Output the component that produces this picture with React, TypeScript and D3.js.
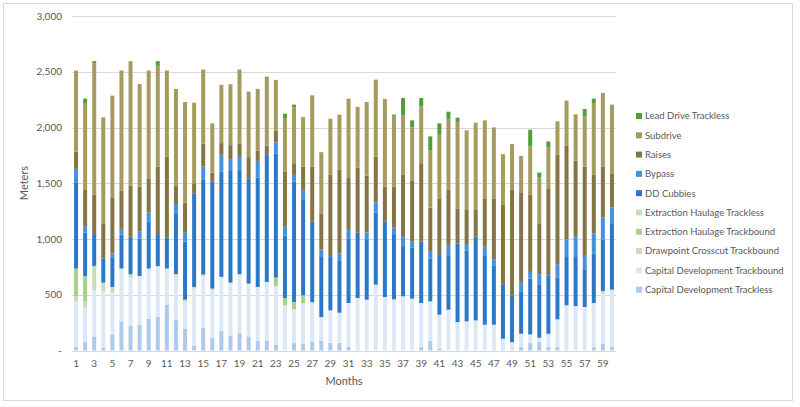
import React from "react";
import * as d3 from "d3";

const months = Array.from({ length: 60 }, (_, i) => i + 1);

const seriesNames = [
  "Capital Development Trackless",
  "Capital Development Trackbound",
  "Drawpoint Crosscut Trackbound",
  "Extraction Haulage Trackbound",
  "Extraction Haulage Trackless",
  "DD Cubbies",
  "Bypass",
  "Raises",
  "Subdrive",
  "Lead Drive Trackless",
];

const seriesColors = [
  "#adc9eb",
  "#dce8f5",
  "#d9d3bd",
  "#a9d18e",
  "#c6e0b4",
  "#2b78c9",
  "#4690dc",
  "#857544",
  "#a69b5e",
  "#50a03a",
];

const capDevTrackless = [30, 75, 126, 24, 144, 261, 225, 231, 285, 300, 411, 279, 195, 45, 204, 111, 174, 135, 156, 126, 90, 90, 54, 0, 66, 60, 81, 90, 69, 69, 36, 0, 0, 0, 0, 0, 0, 0, 30, 90, 15, 0, 0, 0, 0, 0, 0, 0, 0, 30, 66, 75, 30, 30, 0, 0, 0, 30, 60, 36];
const capDevTrackbound = [411, 309, 414, 510, 381, 474, 426, 438, 450, 456, 324, 405, 240, 510, 465, 429, 486, 474, 528, 474, 480, 525, 525, 405, 303, 366, 339, 210, 291, 270, 390, 471, 456, 591, 480, 459, 486, 465, 396, 351, 306, 366, 255, 261, 270, 231, 231, 105, 75, 120, 78, 39, 120, 249, 405, 399, 390, 396, 450, 510];
const drawpointCrosscut = [45, 57, 60, 45, 0, 0, 0, 0, 0, 0, 0, 0, 0, 0, 0, 0, 0, 0, 0, 0, 0, 0, 0, 0, 0, 0, 0, 0, 0, 0, 0, 0, 0, 0, 0, 0, 0, 0, 0, 0, 0, 0, 0, 0, 0, 0, 0, 0, 0, 0, 0, 0, 0, 0, 0, 0, 0, 0, 0, 0];
const extractionTrackbound = [249, 225, 0, 0, 0, 0, 0, 0, 0, 0, 0, 0, 0, 0, 0, 0, 0, 0, 0, 0, 0, 0, 75, 66, 66, 69, 0, 0, 0, 0, 0, 0, 0, 0, 0, 0, 0, 0, 0, 0, 0, 0, 0, 0, 0, 0, 0, 0, 0, 0, 0, 0, 0, 0, 0, 0, 0, 0, 0, 0];
const extractionTrackless = [0, 0, 159, 30, 45, 0, 33, 0, 0, 0, 0, 0, 21, 15, 12, 15, 0, 0, 0, 0, 0, 0, 0, 0, 0, 0, 15, 0, 0, 0, 0, 0, 0, 0, 0, 0, 0, 0, 0, 0, 0, 0, 0, 0, 0, 0, 0, 0, 0, 0, 0, 0, 0, 0, 0, 0, 0, 0, 24, 0];
const ddCubbies = [774, 390, 285, 216, 260, 304, 336, 336, 424, 288, 279, 540, 520, 840, 849, 960, 945, 1001, 933, 939, 981, 1137, 1112, 559, 1080, 855, 720, 546, 486, 471, 573, 585, 543, 648, 675, 585, 450, 456, 549, 384, 543, 489, 705, 633, 750, 624, 528, 489, 420, 375, 501, 480, 525, 375, 441, 447, 339, 444, 460, 588];
const bypass = [120, 60, 0, 0, 40, 50, 0, 60, 80, 0, 0, 90, 80, 0, 120, 0, 150, 100, 120, 0, 150, 0, 100, 80, 60, 90, 0, 60, 0, 60, 90, 0, 60, 90, 0, 60, 90, 60, 0, 60, 0, 90, 0, 60, 0, 75, 60, 0, 0, 90, 60, 90, 0, 120, 150, 180, 120, 180, 200, 150];
const raises = [156, 324, 351, 309, 504, 342, 459, 405, 300, 606, 726, 165, 270, 90, 204, 81, 105, 132, 117, 195, 93, 84, 105, 495, 105, 210, 495, 324, 729, 750, 465, 585, 510, 411, 315, 366, 549, 540, 705, 396, 501, 495, 315, 306, 240, 429, 546, 711, 945, 804, 690, 456, 774, 981, 840, 678, 801, 525, 456, 300];
const subdrive = [726, 780, 1182, 957, 912, 1080, 1116, 921, 972, 903, 771, 867, 903, 723, 666, 441, 522, 546, 666, 588, 552, 621, 456, 474, 501, 444, 639, 549, 504, 495, 705, 543, 660, 690, 786, 630, 534, 480, 510, 513, 570, 630, 774, 714, 783, 705, 636, 456, 411, 327, 435, 411, 372, 300, 405, 414, 450, 645, 660, 621];
const leadDriveTrackless = [0, 39, 18, 0, 0, 0, 0, 0, 0, 42, 0, 0, 0, 0, 0, 0, 0, 0, 0, 0, 0, 0, 0, 45, 24, 0, 0, 0, 0, 0, 0, 0, 0, 0, 0, 15, 156, 63, 75, 126, 102, 72, 39, 0, 0, 0, 0, 0, 0, 0, 150, 45, 54, 0, 0, 0, 66, 39, 0, 0];

const seriesValues = [
  capDevTrackless,
  capDevTrackbound,
  drawpointCrosscut,
  extractionTrackbound,
  extractionTrackless,
  ddCubbies,
  bypass,
  raises,
  subdrive,
  leadDriveTrackless,
];

const yTicks = [0, 500, 1000, 1500, 2000, 2500, 3000];

const FONT = "Lato, 'Open Sans', sans-serif";
const TEXT = "#595959";

export default function App() {
  const rows = months.map((m, i) => {
    const r: any = { month: m };
    seriesNames.forEach((s, k) => (r[s] = seriesValues[k][i]));
    return r;
  });
  const stacked = d3.stack().keys(seriesNames)(rows);

  const x = d3
    .scaleBand<number>()
    .domain(months)
    .range([71.5, 616.5])
    .paddingInner(0.56)
    .paddingOuter(0.28);
  const y = d3.scaleLinear().domain([0, 3000]).range([350.5, 16]);
  const fmt = d3.format(",");

  const legendItems = seriesNames
    .map((n, k) => ({ name: n, color: seriesColors[k] }))
    .reverse();

  return (
    <svg
      width={800}
      height={407}
      style={{ position: "absolute", left: 0, top: 0, background: "#fff" }}
      fontFamily={FONT}
    >
      <rect x={0} y={0} width={800} height={407} fill="#fff" />
      <rect x={3.5} y={3.5} width={789} height={397} fill="none" stroke="#d9d9d9" />
      {yTicks.map((t) => (
        <g key={t}>
          <line
            x1={71.5}
            x2={616.5}
            y1={Math.round(y(t)) + 0.5}
            y2={Math.round(y(t)) + 0.5}
            stroke="#d9d9d9"
          />
          <text
            x={62}
            y={y(t)}
            dy="0.35em"
            textAnchor="end"
            fontSize={10}
            fill={TEXT}
          >
            {t === 0 ? "-" : fmt(t)}
          </text>
        </g>
      ))}
      {stacked.map((layer, k) => (
        <g key={layer.key} fill={seriesColors[k]}>
          {layer.map((d, i) => {
            const h = y(d[0]) - y(d[1]);
            if (h <= 0) return null;
            return (
              <rect
                key={i}
                x={x(months[i])}
                y={y(d[1])}
                width={x.bandwidth()}
                height={h}
              />
            );
          })}
        </g>
      ))}
      {months
        .filter((m) => m % 2 === 1)
        .map((m) => (
          <text
            key={m}
            x={(x(m) as number) + x.bandwidth() / 2}
            y={363}
            dy="0.35em"
            textAnchor="middle"
            fontSize={10}
            fill={TEXT}
          >
            {m}
          </text>
        ))}
      <text x={344} y={381} dy="0.35em" textAnchor="middle" fontSize={11} fill={TEXT}>
        Months
      </text>
      <text
        transform={`translate(24,183) rotate(-90)`}
        textAnchor="middle"
        dy="0.35em"
        fontSize={11}
        fill={TEXT}
      >
        Meters
      </text>
      {legendItems.map((it, j) => {
        const cy = 116 + j * 19.3;
        return (
          <g key={it.name}>
            <rect x={636} y={cy - 3} width={6} height={6} fill={it.color} />
            <text x={645} y={cy} dy="0.35em" fontSize={9.5} fill={TEXT}>
              {it.name}
            </text>
          </g>
        );
      })}
    </svg>
  );
}
